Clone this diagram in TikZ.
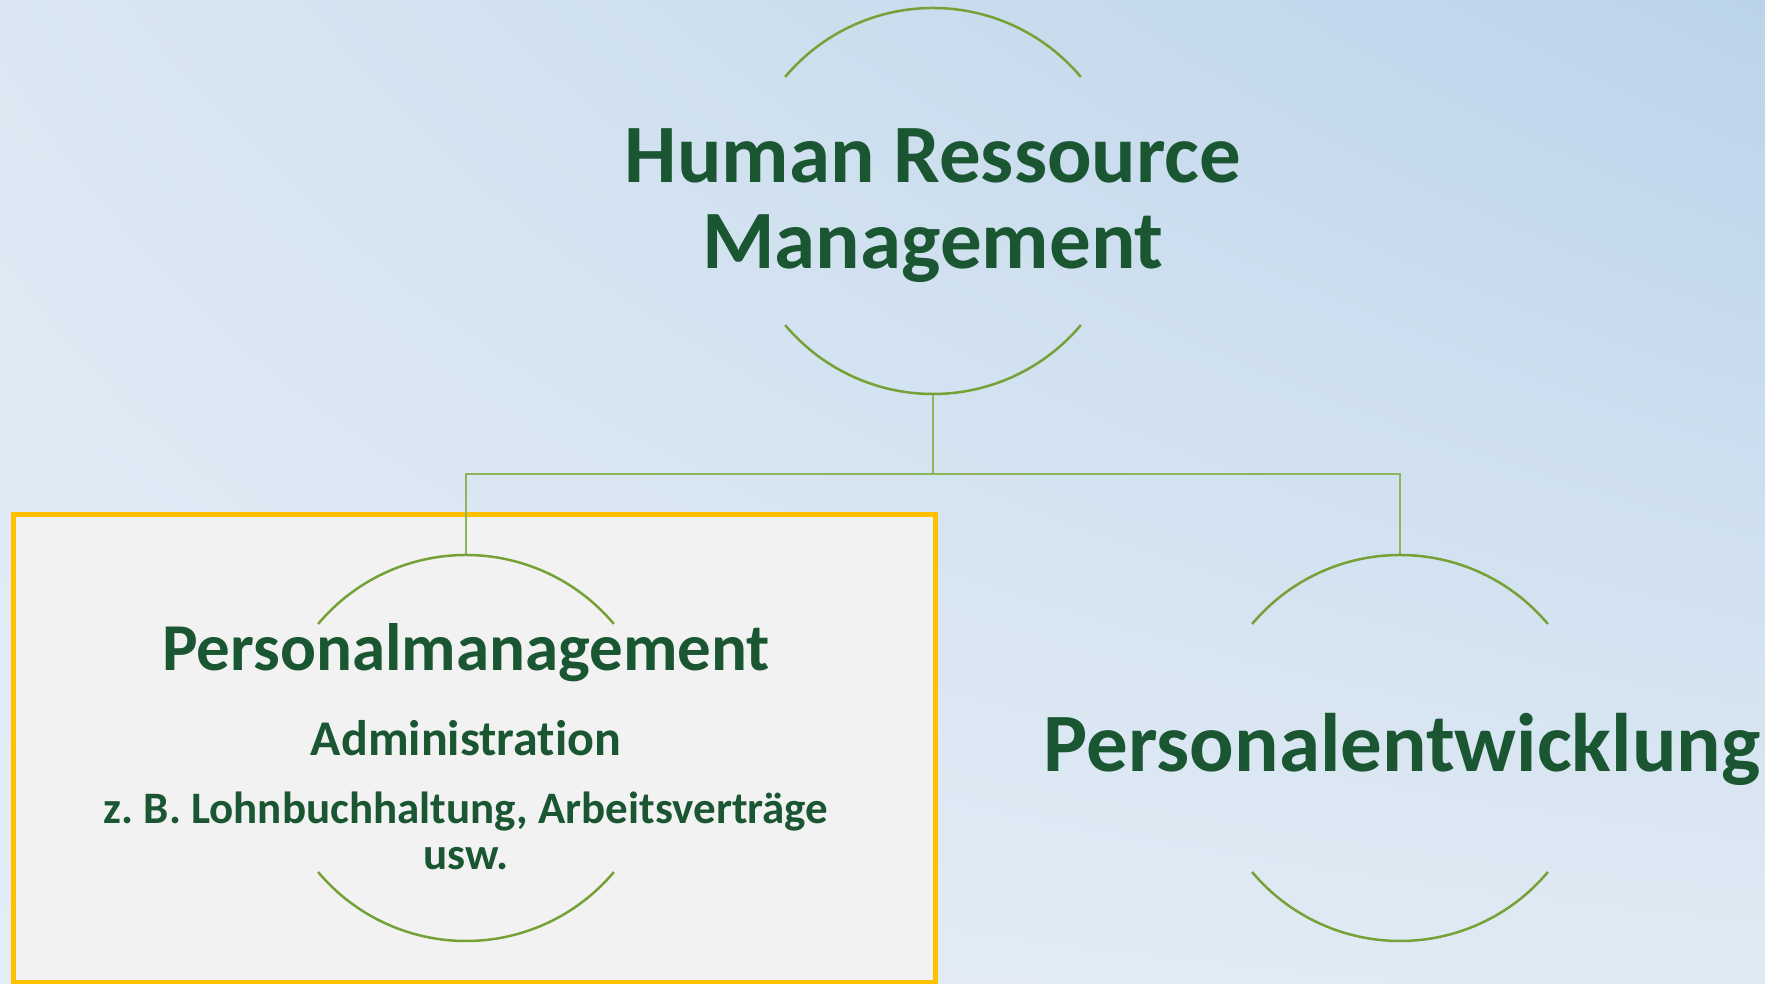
\documentclass[tikz,border=0pt]{standalone}
\usepackage{fontspec}
\setmainfont{Carlito}[Ligatures=NoCommon]
\usetikzlibrary{positioning,shadings}
\definecolor{hrgreen}{HTML}{1A5632}
\definecolor{arcgreen}{HTML}{76A136}
\definecolor{linkgreen}{HTML}{8DB65C}
\definecolor{boxgold}{HTML}{FFC000}
\definecolor{boxfill}{HTML}{F2F2F2}
\definecolor{bgtr}{HTML}{BBD3EA}
\definecolor{bgtl}{HTML}{DAE7F2}
\definecolor{bgbl}{HTML}{E4EDF6}
\definecolor{bgbr}{HTML}{E0EAF4}
\frenchspacing
\begin{document}
\begin{tikzpicture}
[x = 1pt, y = 1pt,
 ring/.style = {circle, minimum size=386pt, inner sep=0pt, outer sep=0pt},
 halo/.style = {draw=arcgreen, line width=2.5pt},
 link/.style = {draw=linkgreen, line width=2pt},
 title/.style = {text=hrgreen, font=\bfseries, align=center, inner sep=0pt},
 focus/.style = {draw=boxgold, line width=5pt, fill=boxfill}
 ]
\useasboundingbox (0,0) rectangle (1765,983);
\shade [upper left=bgtl, upper right=bgtr, lower left=bgbl, lower right=bgbr] (0,0) rectangle (1765,983);
\draw [focus] (13,468) rectangle (935.5,1);
% circles
\node [ring] (hrm) at (933,782) {};
\node [ring] (pm) at (466,235) {};
\node [ring] (pe) at (1400,235) {};
\coordinate (bus) at (933,509);
\draw [link] (hrm.south) -- (bus) -| (pm.north);
\draw [link] (bus) -| (pe.north);
\foreach \n in {hrm,pm,pe}
{
\draw [halo] (\n.40) arc (40:140:193);
\draw [halo] (\n.220) arc (220:320:193);
}
% texts
\node [title, font=\bfseries\fontsize{83}{86.6}\selectfont] (hrmtext) at ([yshift=-4.5pt]hrm.center) {Human Ressource\\Management};
\node [title, font=\bfseries\fontsize{67}{70}\selectfont, anchor=base] (pmname) at (466,312.3) {Personalmanagement};
\node [title, font=\bfseries\fontsize{50}{54}\selectfont, anchor=base] (pmadmin) at (466,227.7) {Administration};
\node [title, font=\bfseries\fontsize{45}{46.7}\selectfont, anchor=base] (pmdetail) at (466,159.7) {z. B. Lohnbuchhaltung, Arbeitsverträge};
\node [title, font=\bfseries\fontsize{45}{46.7}\selectfont, anchor=base] (pmetc) at (466,113) {usw.};
\node [title, font=\bfseries\fontsize{83}{86}\selectfont, anchor=base] (petext) at (1402,211) {Personalentwicklung};
\end{tikzpicture}
\end{document}
